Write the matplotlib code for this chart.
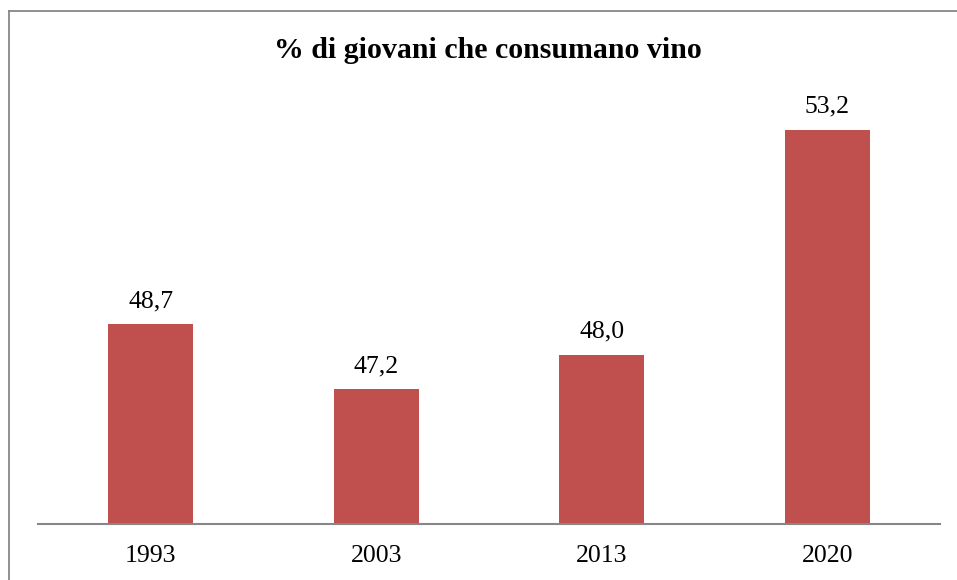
import matplotlib
matplotlib.use("Agg")
import matplotlib.pyplot as plt
from matplotlib.lines import Line2D

categories = ["1993", "2003", "2013", "2020"]
values = [48.7, 47.2, 48.0, 53.2]
value_labels = ["48,7", "47,2", "48,0", "53,2"]
title = "% di giovani che consumano vino"

plt.rcParams['font.family'] = ['Liberation Serif', 'DejaVu Serif']

W, H = 957, 580
fig = plt.figure(figsize=(W / 100, H / 100), dpi=100)

# outer chart frame (top and left edges visible)
gray = "#878787"
fig.add_artist(Line2D([8.5 / W, 1.0], [1 - 11 / H, 1 - 11 / H], color=gray, lw=1.3,
                      transform=fig.transFigure))
fig.add_artist(Line2D([8.5 / W, 8.5 / W], [1 - 11 / H, 0.0], color=gray, lw=1.3,
                      transform=fig.transFigure))

ymin, ymax = 44.08, 54.5
ax_left, ax_right = 38 / W, 940 / W
ax_bottom = 1 - 524 / H
ppu = 43.22  # pixels per unit
ax_top = (524 - (ymax - ymin) * ppu)
ax = fig.add_axes([ax_left, ax_bottom, ax_right - ax_left, (524 - ax_top) / H])

x = range(len(categories))
bars = ax.bar(x, values, width=0.377, color="#C0504D", zorder=2)
ax.set_xlim(-0.5, len(categories) - 0.5)
ax.set_ylim(ymin, ymax)

for xi, v, lab in zip(x, values, value_labels):
    ax.annotate(lab, (xi, v), xytext=(0, 12), textcoords="offset pixels",
                ha="center", va="bottom", fontsize=18.5, color="black")

ax.set_xticks(list(x))
ax.set_xticklabels(categories, fontsize=18.5)
ax.tick_params(axis="x", length=0, pad=15)
ax.set_yticks([])
for s in ["top", "right", "left"]:
    ax.spines[s].set_visible(False)
ax.spines["bottom"].set_color(gray)
ax.spines["bottom"].set_linewidth(1.5)
ax.spines["bottom"].set_zorder(3)

fig.text(488 / W, 1 - 51 / H, title, ha="center", va="center",
         fontsize=21.5, fontweight="bold")

fig.savefig("out.png", dpi=100)
